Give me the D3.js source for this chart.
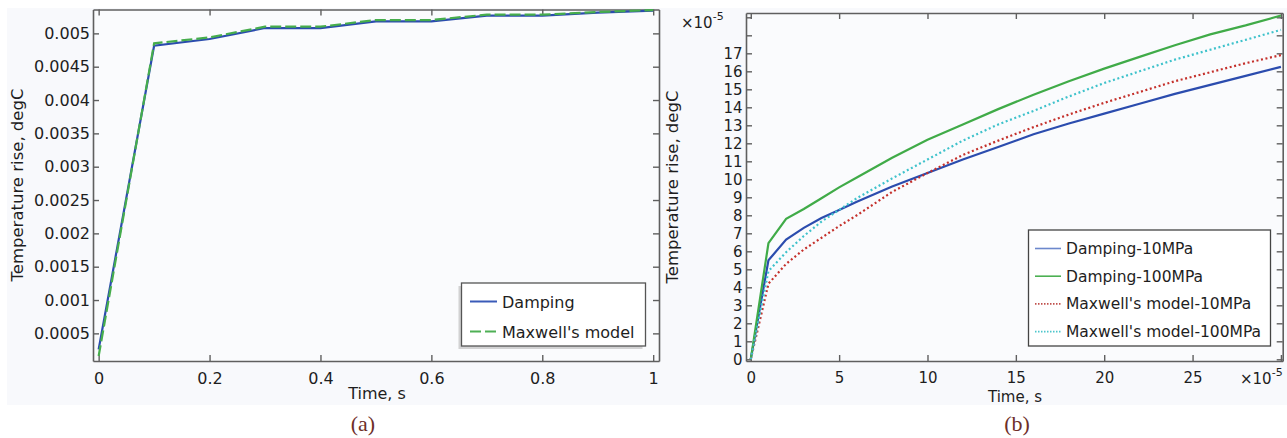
<!DOCTYPE html>
<html>
<head>
<meta charset="utf-8">
<script src="https://cdn.jsdelivr.net/npm/d3@7"></script>
<style>
  html, body { margin: 0; padding: 0; background: #ffffff; }
  svg { display: block; }
  text { font-family: "DejaVu Sans", sans-serif; fill: #1e1e1e; }
  .cap { font-family: "Liberation Serif", "DejaVu Serif", serif; fill: #6e2e28; }
</style>
</head>
<body>
<svg id="fig" width="1287" height="438"></svg>
<script>
// ---- Panel (a): temperature rise over 1 s ----
const timeA      = [0, 0.1, 0.2, 0.3, 0.4, 0.5, 0.6, 0.7, 0.8, 0.9, 1.0];
const dampingA   = [0.00026, 0.004815, 0.004915, 0.00508, 0.00508, 0.00518, 0.00518, 0.005265, 0.005265, 0.00531, 0.00534];
const maxwellA   = [0.00016, 0.00485, 0.00494, 0.00510, 0.00510, 0.00520, 0.00520, 0.00528, 0.00528, 0.00532, 0.00535];
const xTicksA    = [0, 0.2, 0.4, 0.6, 0.8, 1];
const xLabelsA   = ["0", "0.2", "0.4", "0.6", "0.8", "1"];
const yTicksA    = [0.0005, 0.001, 0.0015, 0.002, 0.0025, 0.003, 0.0035, 0.004, 0.0045, 0.005];
const yLabelsA   = ["0.0005", "0.001", "0.0015", "0.002", "0.0025", "0.003", "0.0035", "0.004", "0.0045", "0.005"];
const legendA    = ["Damping", "Maxwell's model"];

// ---- Panel (b): temperature rise over 30e-5 s (values in units of 1e-5) ----
const timeB       = [0, 1, 2, 3, 4, 5, 6, 8, 10, 12, 14, 16, 18, 20, 22, 24, 26, 28, 30];
const damping10   = [0, 5.5, 6.65, 7.3, 7.85, 8.3, 8.75, 9.6, 10.35, 11.1, 11.8, 12.5, 13.1, 13.65, 14.2, 14.75, 15.25, 15.75, 16.25];
const damping100  = [0, 6.45, 7.8, 8.35, 8.95, 9.55, 10.1, 11.2, 12.2, 13.05, 13.9, 14.7, 15.45, 16.15, 16.8, 17.45, 18.05, 18.55, 19.1];
const maxwell10   = [0, 4.2, 5.3, 6.1, 6.75, 7.4, 8.0, 9.3, 10.35, 11.35, 12.15, 12.9, 13.6, 14.25, 14.85, 15.45, 15.95, 16.45, 16.9];
const maxwell100  = [0, 4.9, 5.95, 6.85, 7.65, 8.3, 8.95, 10.05, 11.1, 12.15, 13.05, 13.8, 14.6, 15.35, 16.0, 16.65, 17.2, 17.75, 18.3];
const xTicksB     = [0, 5, 10, 15, 20, 25, 30];
const xLabelsB    = ["0", "5", "10", "15", "20", "25", ""];
const yTicksB     = d3.range(0, 20);
const legendB     = ["Damping-10MPa", "Damping-100MPa", "Maxwell's model-10MPa", "Maxwell's model-100MPa"];

const svg = d3.select("#fig");
const AXIS = "#5f5f5f";

// faint page tint behind both plots
svg.append("rect").attr("x", 7).attr("y", 8).attr("width", 1280).attr("height", 397).attr("fill", "#f8f9fc");

function frame(g, x, y, xt, xl, yt, yl, fontSize, padX, padY) {
  const [x0, x1] = x.range();
  const [y0, y1] = y.range();
  g.append("rect").attr("x", x0).attr("y", y1).attr("width", x1 - x0).attr("height", y0 - y1).attr("fill", "#fafbfd");

  const bottom = g.append("g").attr("transform", `translate(0,${y0})`)
    .call(d3.axisBottom(x).tickValues(xt).tickFormat((d, i) => xl[i]).tickSizeInner(-6).tickSizeOuter(0).tickPadding(padX));
  const left = g.append("g").attr("transform", `translate(${x0},0)`)
    .call(d3.axisLeft(y).tickValues(yt).tickFormat((d, i) => yl[i] === undefined ? "" : yl[i]).tickSizeInner(-6).tickSizeOuter(0).tickPadding(padY));
  const top = g.append("g").attr("transform", `translate(0,${y1})`)
    .call(d3.axisTop(x).tickValues(xt).tickFormat("").tickSizeInner(-6).tickSizeOuter(0));
  const right = g.append("g").attr("transform", `translate(${x1},0)`)
    .call(d3.axisRight(y).tickValues(yt).tickFormat("").tickSizeInner(-6).tickSizeOuter(0));

  [bottom, left, top, right].forEach(a => {
    a.select(".domain").attr("stroke", AXIS).attr("stroke-width", 1.6);
    a.selectAll(".tick line").attr("stroke", AXIS).attr("stroke-width", 1.4);
    a.selectAll("text").attr("font-family", "DejaVu Sans").attr("font-size", fontSize).attr("fill", "#1e1e1e");
  });
}

// ================= Panel (a) =================
const gA = svg.append("g");
const xA = d3.scaleLinear().domain([-0.0102, 1.0105]).range([93, 659]);
const yA = d3.scaleLinear().domain([0.0000855, 0.005358]).range([361, 9.5]);
frame(gA, xA, yA, xTicksA, xLabelsA, yTicksA, yLabelsA, 16, 11.5, 3);

const lineA = vals => d3.line().x((d, i) => xA(timeA[i])).y(d => yA(d))(vals);
gA.append("path").attr("d", lineA(dampingA)).attr("fill", "none").attr("stroke", "#2b4cae").attr("stroke-width", 2.2);
gA.append("path").attr("d", lineA(maxwellA)).attr("fill", "none").attr("stroke", "#46ad4c").attr("stroke-width", 2.2).attr("stroke-dasharray", "11,4");

gA.append("text").attr("x", 377).attr("y", 399).attr("text-anchor", "middle").attr("font-size", 16).text("Time, s");
gA.append("text").attr("transform", "translate(23,185) rotate(-90)").attr("text-anchor", "middle").attr("font-size", 16.5).text("Temperature rise, degC");

// legend (a)
const legA = gA.append("g");
legA.append("rect").attr("x", 458.5).attr("y", 286).attr("width", 184).attr("height", 63).attr("fill", "#b8b8b8").attr("opacity", 0.6);
legA.append("rect").attr("x", 461.5).attr("y", 283).attr("width", 184).attr("height", 63).attr("fill", "#ffffff").attr("stroke", "#555").attr("stroke-width", 1.3);
const legAStyles = [{c: "#3a5bb8", dash: null}, {c: "#4fb055", dash: "11,4"}];
legendA.forEach((name, i) => {
  const cy = 301.5 + i * 30;
  legA.append("line").attr("x1", 470).attr("x2", 497).attr("y1", cy).attr("y2", cy)
    .attr("stroke", legAStyles[i].c).attr("stroke-width", 2).attr("stroke-dasharray", legAStyles[i].dash);
  legA.append("text").attr("x", 502).attr("y", cy + 6).attr("font-size", 16).text(name);
});

svg.append("text").attr("class", "cap").attr("x", 363).attr("y", 431).attr("text-anchor", "middle").attr("font-size", 22).text("(a)");

// ================= Panel (b) =================
const gB = svg.append("g");
const xB = d3.scaleLinear().domain([-0.27, 30.1]).range([746, 1282.7]);
const yB = d3.scaleLinear().domain([-0.094, 19.24]).range([361, 13]);
const yLabelsB = yTicksB.map(v => v <= 17 ? String(v) : "");
frame(gB, xB, yB, xTicksB, xLabelsB, yTicksB, yLabelsB, 15, 11.5, 3.5);

const lineB = vals => d3.line().x((d, i) => xB(timeB[i])).y(d => yB(d))(vals);
const seriesB = [
  {v: damping10,  c: "#2b4cae", dash: null,    w: 2.2},
  {v: damping100, c: "#40ab48", dash: null,    w: 2.2},
  {v: maxwell10,  c: "#c4302b", dash: "2,2.6", w: 2.2},
  {v: maxwell100, c: "#3ec2cb", dash: "2,2.6", w: 2.2}
];
seriesB.forEach(s => {
  gB.append("path").attr("d", lineB(s.v)).attr("fill", "none").attr("stroke", s.c)
    .attr("stroke-width", s.w).attr("stroke-dasharray", s.dash);
});

gB.append("text").attr("x", 1015).attr("y", 402).attr("text-anchor", "middle").attr("font-size", 15).text("Time, s");
gB.append("text").attr("transform", "translate(678,187) rotate(-90)").attr("text-anchor", "middle").attr("font-size", 16.5).text("Temperature rise, degC");

// scale multipliers
function multiplier(g, x, y) {
  const t = g.append("text").attr("x", x).attr("y", y).attr("font-size", 15);
  t.append("tspan").text("\u00d710");
  t.append("tspan").attr("dy", -8).attr("font-size", 11).text("-5");
}
multiplier(gB, 681, 28);
multiplier(gB, 1240, 384);

// legend (b)
const legB = gB.append("g");
legB.append("rect").attr("x", 1028.5).attr("y", 230).attr("width", 242).attr("height", 116).attr("fill", "#ffffff").attr("stroke", "#444").attr("stroke-width", 1.3);
const legBStyles = [
  {c: "#6c88cc", dash: null}, {c: "#4cb052", dash: null},
  {c: "#c0504c", dash: "1.5,1.5"}, {c: "#4cc6cc", dash: "1.5,1.5"}
];
legendB.forEach((name, i) => {
  const cy = 248.5 + i * 27.7;
  legB.append("line").attr("x1", 1035).attr("x2", 1061).attr("y1", cy).attr("y2", cy)
    .attr("stroke", legBStyles[i].c).attr("stroke-width", 1.6).attr("stroke-dasharray", legBStyles[i].dash);
  legB.append("text").attr("x", 1066).attr("y", cy + 5.5).attr("font-size", 15.5).text(name);
});

svg.append("text").attr("class", "cap").attr("x", 1017).attr("y", 431).attr("text-anchor", "middle").attr("font-size", 22).text("(b)");
</script>
</body>
</html>
